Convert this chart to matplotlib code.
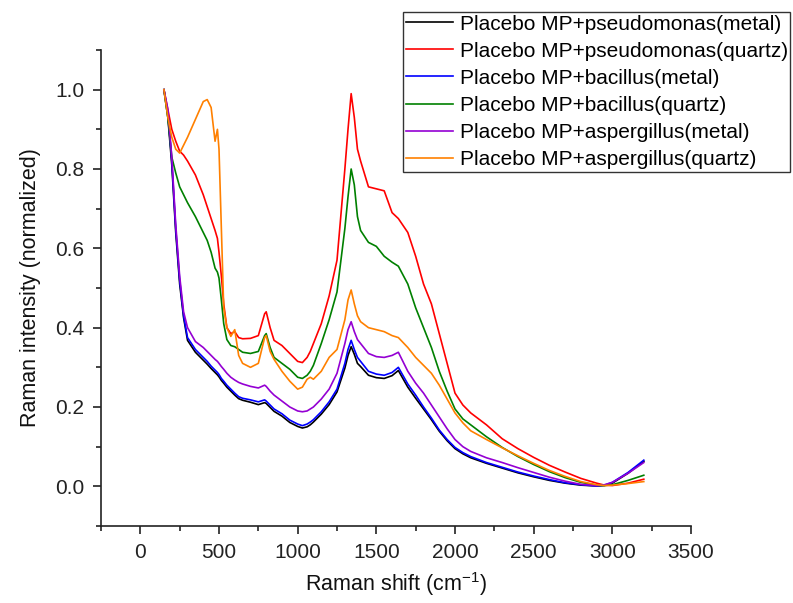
import matplotlib
matplotlib.use("Agg")
import matplotlib.pyplot as plt
from matplotlib.ticker import MultipleLocator, FormatStrFormatter

plt.rcParams['font.family'] = ['Liberation Sans', 'DejaVu Sans']
plt.rcParams['mathtext.fontset'] = 'custom'
plt.rcParams['mathtext.rm'] = 'Liberation Sans'
plt.rcParams['mathtext.default'] = 'regular'

shift = [150, 175, 200, 225, 250, 275, 300, 350, 400, 425, 450, 475, 490, 500, 515, 530, 550, 575,
         600, 625, 650, 700, 750, 790, 800, 825, 850, 900, 950, 1000, 1030, 1060, 1080, 1100, 1150,
         1200, 1250, 1300, 1320, 1340, 1360, 1380, 1400, 1450, 1500, 1550, 1600, 1640, 1700, 1750,
         1800, 1850, 1900, 1950, 2000, 2050, 2100, 2200, 2300, 2400, 2500, 2600, 2700, 2800, 2900,
         2950, 3000, 3100, 3200]

pseudo_metal = [1.0, 0.93, 0.81, 0.64, 0.51, 0.425, 0.368, 0.338, 0.318, 0.308, 0.297, 0.287, 0.281,
                0.276, 0.267, 0.26, 0.25, 0.24, 0.23, 0.221, 0.217, 0.212, 0.206, 0.211, 0.209,
                0.199, 0.189, 0.177, 0.161, 0.151, 0.147, 0.15, 0.155, 0.162, 0.182, 0.206, 0.238,
                0.298, 0.33, 0.352, 0.333, 0.31, 0.302, 0.28, 0.274, 0.272, 0.279, 0.292, 0.25,
                0.222, 0.195, 0.168, 0.139, 0.115, 0.095, 0.082, 0.072, 0.058, 0.046, 0.034, 0.024,
                0.015, 0.008, 0.003, 0.001, 0.002, 0.008, 0.033, 0.063]

pseudo_quartz = [1.0, 0.95, 0.9, 0.87, 0.845, 0.835, 0.82, 0.785, 0.735, 0.705, 0.675, 0.645, 0.625,
                 0.59, 0.53, 0.46, 0.4, 0.385, 0.39, 0.375, 0.372, 0.373, 0.38, 0.435, 0.44, 0.4,
                 0.368, 0.355, 0.335, 0.315, 0.312, 0.325, 0.34, 0.36, 0.41, 0.48, 0.57, 0.8, 0.9,
                 0.99, 0.93, 0.85, 0.82, 0.755, 0.75, 0.745, 0.69, 0.675, 0.64, 0.58, 0.51, 0.46,
                 0.385, 0.31, 0.235, 0.205, 0.185, 0.155, 0.12, 0.095, 0.073, 0.053, 0.036, 0.02,
                 0.008, 0.003, 0.002, 0.008, 0.018]

bac_metal = [1.0, 0.94, 0.82, 0.65, 0.52, 0.43, 0.375, 0.345, 0.325, 0.315, 0.303, 0.293, 0.287,
             0.282, 0.272, 0.265, 0.255, 0.245, 0.235, 0.226, 0.222, 0.218, 0.213, 0.218, 0.215,
             0.205, 0.195, 0.183, 0.167, 0.157, 0.153, 0.157, 0.162, 0.168, 0.188, 0.213, 0.245,
             0.31, 0.345, 0.368, 0.345, 0.325, 0.315, 0.29, 0.283, 0.28, 0.287, 0.3, 0.258, 0.23,
             0.2, 0.172, 0.142, 0.118, 0.098, 0.085, 0.075, 0.06, 0.048, 0.036, 0.026, 0.017,
             0.009, 0.004, 0.001, 0.003, 0.01, 0.035, 0.066]

bac_quartz = [1.0, 0.93, 0.83, 0.79, 0.755, 0.735, 0.715, 0.68, 0.64, 0.62, 0.59, 0.55, 0.54, 0.525,
              0.47, 0.41, 0.37, 0.355, 0.352, 0.345, 0.338, 0.335, 0.34, 0.38, 0.385, 0.35, 0.325,
              0.31, 0.295, 0.275, 0.272, 0.28, 0.29, 0.305, 0.36, 0.42, 0.49, 0.65, 0.73, 0.8, 0.76,
              0.68, 0.645, 0.615, 0.605, 0.58, 0.565, 0.555, 0.51, 0.45, 0.4, 0.35, 0.29, 0.24,
              0.195, 0.17, 0.155, 0.125, 0.098, 0.075, 0.055, 0.037, 0.022, 0.01, 0.003, 0.002,
              0.004, 0.015, 0.028]

asp_metal = [1.0, 0.95, 0.83, 0.66, 0.53, 0.44, 0.4, 0.365, 0.35, 0.34, 0.33, 0.32, 0.315, 0.31,
             0.302, 0.295, 0.285, 0.275, 0.268, 0.262, 0.258, 0.252, 0.248, 0.255, 0.252, 0.24,
             0.23, 0.215, 0.2, 0.19, 0.188, 0.19, 0.195, 0.2, 0.22, 0.245, 0.285, 0.36, 0.395,
             0.415, 0.39, 0.37, 0.36, 0.335, 0.327, 0.325, 0.33, 0.338, 0.29, 0.26, 0.235, 0.205,
             0.175, 0.145, 0.118, 0.1, 0.088, 0.072, 0.06, 0.047, 0.035, 0.023, 0.013, 0.005,
             0.002, 0.004, 0.01, 0.033, 0.06]

asp_quartz = [1.0, 0.93, 0.88, 0.85, 0.84, 0.86, 0.88, 0.925, 0.97, 0.975, 0.955, 0.87, 0.9, 0.85,
              0.65, 0.45, 0.4, 0.378, 0.395, 0.33, 0.31, 0.3, 0.31, 0.375, 0.38, 0.34, 0.32, 0.29,
              0.265, 0.245, 0.25, 0.27, 0.275, 0.27, 0.29, 0.325, 0.345, 0.42, 0.47, 0.495, 0.46,
              0.43, 0.415, 0.4, 0.395, 0.39, 0.38, 0.375, 0.35, 0.325, 0.305, 0.285, 0.255, 0.22,
              0.185, 0.16, 0.14, 0.118, 0.097, 0.077, 0.058, 0.04, 0.025, 0.012, 0.004, 0.002,
              0.003, 0.007, 0.012]

labels = ["Placebo MP+pseudomonas(metal)", "Placebo MP+pseudomonas(quartz)",
          "Placebo MP+bacillus(metal)", "Placebo MP+bacillus(quartz)",
          "Placebo MP+aspergillus(metal)", "Placebo MP+aspergillus(quartz)"]
series = [pseudo_metal, pseudo_quartz, bac_metal, bac_quartz, asp_metal, asp_quartz]
colors = ['#000000', '#FF0000', '#0000FF', '#008000', '#9400D3', '#FF8000']

fig = plt.figure(figsize=(7.93, 6.03), dpi=100)
ax = fig.add_axes([101/793, 1-526/603, (691-101)/793, (526-50)/603])

for ys, lab, c in zip(series, labels, colors):
    ax.plot(shift, ys, color=c, lw=1.2, label=lab)

ax.set_xlim(-250, 3500)
ax.set_ylim(-0.1, 1.1)
ax.xaxis.set_major_locator(MultipleLocator(500))
ax.xaxis.set_minor_locator(MultipleLocator(250))
ax.yaxis.set_major_locator(MultipleLocator(0.2))
ax.yaxis.set_minor_locator(MultipleLocator(0.1))
ax.yaxis.set_major_formatter(FormatStrFormatter('%.1f'))
ax.set_yticks([0.0, 0.2, 0.4, 0.6, 0.8, 1.0])

for s in ['top', 'right']:
    ax.spines[s].set_visible(False)
for s in ['left', 'bottom']:
    ax.spines[s].set_linewidth(1.2)
    ax.spines[s].set_color('#222222')

ax.tick_params(which='major', direction='out', length=6, width=1.2, labelsize=15,
               colors='#222222', pad=6)
ax.tick_params(which='minor', direction='out', length=3.5, width=1.2, colors='#222222')

ax.set_xlabel(r'Raman shift (cm$^{-1}$)', fontsize=15.5, labelpad=6, color='#111111')
ax.set_ylabel('Raman intensity (normalized)', fontsize=15.5, labelpad=10, color='#111111')

leg = fig.legend(loc='upper left', bbox_to_anchor=(403/793, 1-12/603), borderaxespad=0,
                 fontsize=15, handlelength=2.3, handletextpad=0.3, labelspacing=0.39,
                 borderpad=0.12, fancybox=False, framealpha=1, edgecolor='#333333')
leg.get_frame().set_linewidth(1.0)

fig.savefig('out.png', dpi=100)
